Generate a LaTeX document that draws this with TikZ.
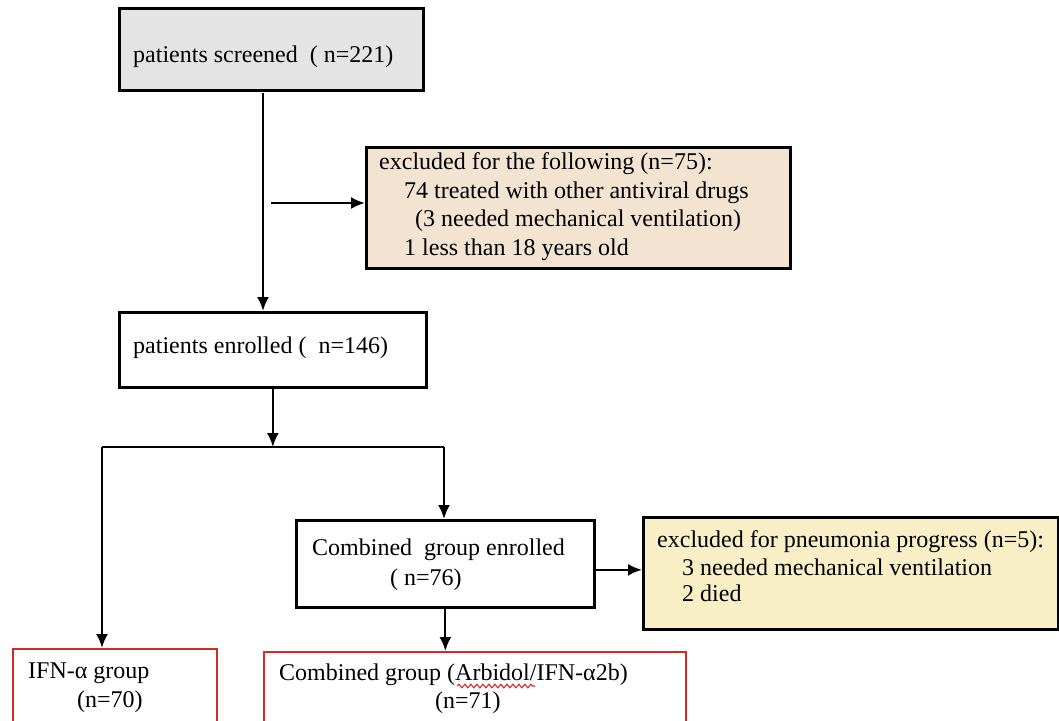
\documentclass[tikz,border=0pt]{standalone}
\usepackage{fontspec}
\setmainfont{Liberation Serif}
\usetikzlibrary{calc,arrows.meta,decorations.pathmorphing}

\definecolor{screengray}{HTML}{E4E4E4}
\definecolor{exclbeige}{HTML}{F3E4D2}
\definecolor{progyellow}{HTML}{F9EFC6}
\definecolor{groupred}{HTML}{D42A2A}

\begin{document}
\begin{tikzpicture}[x=1pt,y=-1pt,
    font=\fontsize{24}{29}\selectfont,
    box/.style={draw, line width=2.7pt, anchor=north west, inner sep=0pt},
    redbox/.style={draw=groupred, line width=1.8pt, anchor=north west, inner sep=0pt},
    txt/.style={anchor=base west, inner sep=0pt},
    arr/.style={line width=2.2pt, -{Latex[length=14pt,width=12pt]}}]

    % Fix the page to the size of the reference
    \clip (0,0) rectangle (1059,720);
    \fill[white] (0,0) rectangle (1059,720);

    % Draw the boxes
    \node[box, fill=screengray, minimum width=304pt, minimum height=82pt] (screen) at (118,7) {};
    \node[box, fill=exclbeige, minimum width=424pt, minimum height=121pt] (excl) at (365,146) {};
    \node[box, minimum width=307pt, minimum height=75pt] (enrol) at (118,311) {};
    \node[box, minimum width=298pt, minimum height=87pt] (comb) at (295,519) {};
    \node[box, fill=progyellow, minimum width=415pt, minimum height=112pt] (prog) at (642,516) {};
    \node[redbox, minimum width=204pt, minimum height=90pt] (ifn) at (12,648) {};
    \node[redbox, minimum width=422pt, minimum height=90pt] (combgrp) at (263,651) {};

    % Add the texts of the boxes
    \node[txt] (screenT) at (133,62) {patients screened\ \ ( n=221)};

    \node[txt] (exclA) at (379,169) {excluded for the following (n=75):};
    \node[txt] (exclB) at (404,198) {74 treated with other antiviral drugs};
    \node[txt] (exclC) at (415,226) {(3 needed mechanical ventilation)};
    \node[txt] (exclD) at (404,255) {1 less than 18 years old};

    \node[txt] (enrolT) at (133,353) {patients enrolled (\ \ n=146)};

    \node[txt] (combA) at (312,555) {Combined\ \ group enrolled};
    \node[txt] (combB) at (390,585) {( n=76)};

    \node[txt] (progA) at (657,547) {excluded for pneumonia progress (n=5):};
    \node[txt] (progB) at (682,575) {3 needed mechanical ventilation};
    \node[txt] (progC) at (682,601) {2 died};

    \node[txt] (ifnA) at (28,678) {IFN-α group};
    \node[txt] (ifnB) at (77,707) {(n=70)};

    \node[txt] (combgrpA) at (279,680) {Combined group (Arbidol/IFN-α2b)};
    \node[txt] (combgrpB) at (435,708) {(n=71)};

    % Wavy underline below Arbidol
    \draw[groupred, line width=1.1pt, decorate,
        decoration={snake, amplitude=1.8pt, segment length=6pt}] (457,686) -- (535,686);

    % Screened to enrolled, with the branch to the excluded box
    \coordinate (s1) at (263,93);
    \draw[arr] (s1) -- (s1 |- enrol.north);
    \coordinate (b1) at (271,203);
    \draw[arr] (b1) -- (b1 -| excl.west);

    % Enrolled down to the split line
    \coordinate (jl) at (102,447);
    \coordinate (jr) at (444,447);
    \draw[line width=2.2pt] (jl) -- (jr);
    \draw[arr] (enrol.south) -- (enrol.south |- jl);

    % The two branches of the split
    \draw[arr] (jl) -- (jl |- ifn.north);
    \draw[arr] (jr) -- (jr |- comb.north);

    % Combined group enrolled to the excluded box and to the final group
    \coordinate (c1) at ($(comb.east)+(0,6)$);
    \draw[arr] (c1) -- (c1 -| prog.west);
    \draw[arr] (comb.south) -- (comb.south |- combgrp.north);

\end{tikzpicture}
\end{document}
